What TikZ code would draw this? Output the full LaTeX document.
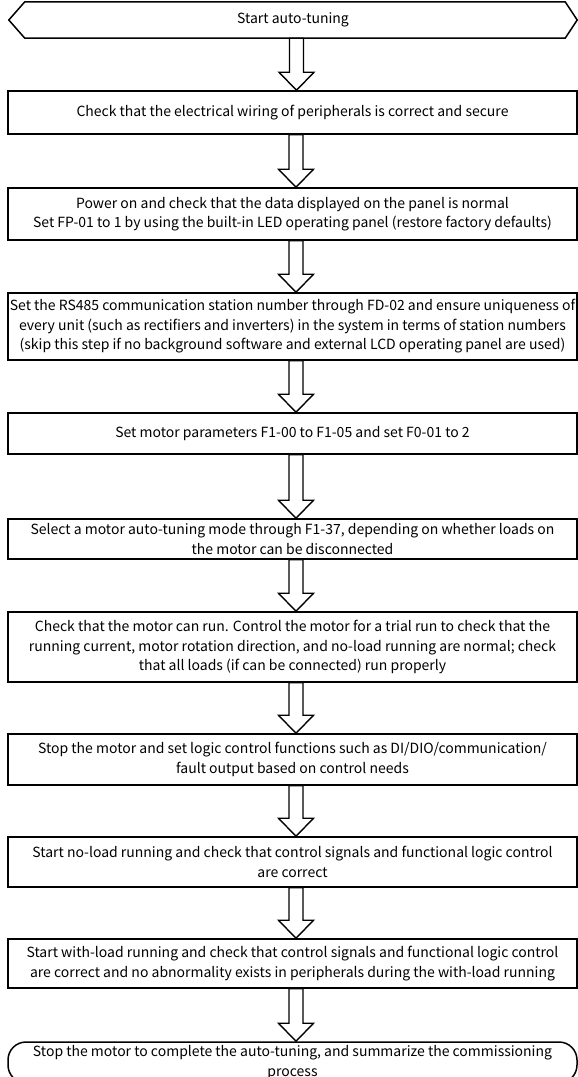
\documentclass[tikz,border=0pt]{standalone}
\usepackage{fontspec}
\setmainfont{Noto Sans CJK SC}
\usetikzlibrary{calc}
\newcommand\flowfs{\fontsize{14}{19.5}\selectfont}
\tikzset{
  box/.style={draw, line width=1.5pt, minimum width=569pt, inner sep=0pt, align=center, font=\flowfs},
  startbox/.style={minimum width=568pt, minimum height=36pt, inner sep=0pt, align=center, font=\flowfs},
  outline/.style={draw, line width=1.5pt, line join=miter},
  blockarr/.style={draw, line width=1.4pt, fill=white, line join=miter},
}
\newcommand\flowarrow[2]{%
  \path[blockarr] let \p1=(#1.south), \p2=(#2.north) in
    ({\x1-3.5pt},\y1) -- ({\x1-3.5pt},{\y2+18pt}) -- ({\x1-14pt},{\y2+18pt}) --
    ({\x1+3.5pt},\y2) -- ({\x1+21pt},{\y2+18pt}) -- ({\x1+10.5pt},{\y2+18pt}) --
    ({\x1+10.5pt},\y1) -- cycle;}
\begin{document}
\begin{tikzpicture}[x=1pt,y=-1pt]
\useasboundingbox (0,0) rectangle (578,1077);
\node[startbox] (start) at (293,20) {Start auto-tuning};
\path[outline] (start.west) -- ([xshift=16pt]start.north west) -- ([xshift=-12pt]start.north east)
  -- (start.east) -- ([xshift=-12pt]start.south east) -- ([xshift=16pt]start.south west) -- cycle;

\node[box, minimum height=43pt] (b2) at (292.5,112.5) {Check that the electrical wiring of peripherals is correct and secure};
\node[box, minimum height=52pt] (b3) at (292.5,214) {Power on and check that the data displayed on the panel is normal\\Set FP-01 to 1 by using the built-in LED operating panel (restore factory defaults)};
\node[box, minimum height=67pt] (b4) at (292.5,326.5) {Set the RS485 communication station number through FD-02 and ensure uniqueness of\\every unit (such as rectifiers and inverters) in the system in terms of station numbers\\(skip this step if no background software and external LCD operating panel are used)};
\node[box, minimum height=41pt] (b5) at (292.5,433.5) {Set motor parameters F1-00 to F1-05 and set F0-01 to 2};
\node[box, minimum height=40pt] (b6) at (292.5,539) {Select a motor auto-tuning mode through F1-37, depending on whether loads on\\the motor can be disconnected};
\node[box, minimum height=70pt] (b7) at (292.5,647) {Check that the motor can run. Control the motor for a trial run to check that the\\running current, motor rotation direction, and no-load running are normal; check\\that all loads (if can be connected) run properly};
\node[box, minimum height=51pt] (b8) at (292.5,759.5) {Stop the motor and set logic control functions such as DI/DIO/communication/\\fault output based on control needs};
\node[box, minimum height=50pt] (b9) at (292.5,862) {Start no-load running and check that control signals and functional logic control\\are correct};
\node[box, minimum height=49pt] (b10) at (292.5,963.5) {Start with-load running and check that control signals and functional logic control\\are correct and no abnormality exists in peripherals during the with-load running};
\node[box, minimum height=41pt, rounded corners=18pt] (end) at (292.5,1062.5) {Stop the motor to complete the auto-tuning, and summarize the commissioning\\process};

\flowarrow{start}{b2}
\flowarrow{b2}{b3}
\flowarrow{b3}{b4}
\flowarrow{b4}{b5}
\flowarrow{b5}{b6}
\flowarrow{b6}{b7}
\flowarrow{b7}{b8}
\flowarrow{b8}{b9}
\flowarrow{b9}{b10}
\flowarrow{b10}{end}
\end{tikzpicture}
\end{document}
